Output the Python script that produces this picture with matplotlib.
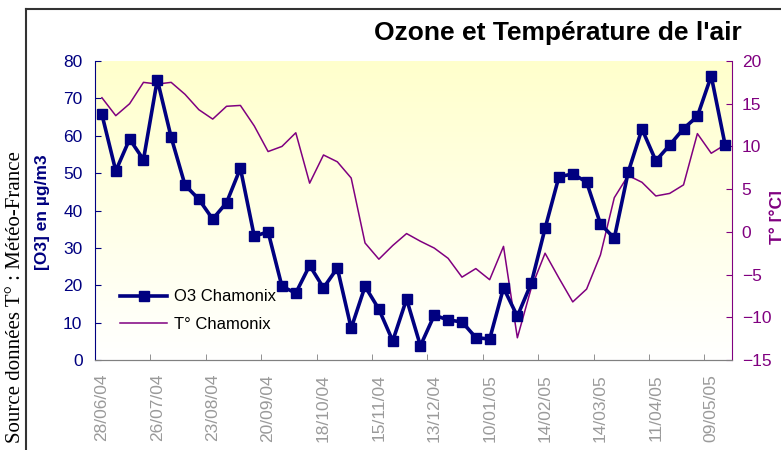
import numpy as np
import matplotlib
matplotlib.use('Agg')
import matplotlib.pyplot as plt
from matplotlib.lines import Line2D

plt.rcParams['font.family'] = 'Liberation Sans'

# weekly dates (one week missing in late January)
dates = ['28/06/04', '05/07/04', '12/07/04', '19/07/04', '26/07/04', '02/08/04',
         '09/08/04', '16/08/04', '23/08/04', '30/08/04', '06/09/04', '13/09/04',
         '20/09/04', '27/09/04', '04/10/04', '11/10/04', '18/10/04', '25/10/04',
         '01/11/04', '08/11/04', '15/11/04', '22/11/04', '29/11/04', '06/12/04',
         '13/12/04', '20/12/04', '27/12/04', '03/01/05', '10/01/05', '17/01/05',
         '24/01/05', '07/02/05', '14/02/05', '21/02/05', '28/02/05', '07/03/05',
         '14/03/05', '21/03/05', '28/03/05', '04/04/05', '11/04/05', '18/04/05',
         '25/04/05', '02/05/05', '09/05/05', '16/05/05']

o3 = [65.7, 50.6, 59.1, 53.6, 75.0, 59.6, 46.8, 43.0, 37.7, 42.1, 51.3, 33.1,
      34.3, 19.7, 17.9, 25.3, 19.3, 24.6, 8.5, 19.7, 13.6, 5.1, 16.3, 3.8,
      12.0, 10.7, 10.2, 6.0, 5.6, 19.3, 11.7, 20.5, 35.2, 49.0, 49.8, 47.6,
      36.4, 32.6, 50.2, 61.8, 53.3, 57.5, 61.9, 65.2, 76.0, 57.6]

temp = [15.7, 13.6, 15.0, 17.5, 17.3, 17.5, 16.1, 14.3, 13.2, 14.7, 14.8, 12.4,
        9.4, 10.0, 11.6, 5.7, 9.0, 8.2, 6.3, -1.3, -3.2, -1.6, -0.2, -1.1,
        -1.9, -3.1, -5.3, -4.3, -5.6, -1.7, -12.4, -6.6, -2.5, -5.4, -8.2, -6.7,
        -2.7, 4.0, 6.6, 5.8, 4.2, 4.5, 5.5, 11.5, 9.2, 10.2]

navy = '#000080'
purple = '#800080'
W, H = 781, 450

fig = plt.figure(figsize=(W / 100, H / 100), dpi=100)
ax2 = fig.add_axes([95 / W, 1 - 360 / H, 637 / W, 299 / H])
ax = ax2.twinx()
ax.set_zorder(ax2.get_zorder() + 1)
ax.patch.set_visible(False)

# yellow to white background
grad = np.linspace(0, 1, 256).reshape(-1, 1)
cmap = matplotlib.colors.LinearSegmentedColormap.from_list('bg', ['#FFFFCC', '#FFFFFF'])
ax2.imshow(grad, extent=[0, 1, 0, 1], transform=ax2.transAxes, aspect='auto',
           cmap=cmap, zorder=0)

x = np.arange(len(dates))
l1, = ax.plot(x, o3, color=navy, lw=2.6, marker='s', ms=7.5, mec=navy, mfc=navy,
              label='O3 Chamonix')
l2, = ax2.plot(x, temp, color=purple, lw=1.1, label='T° Chamonix')

# ozone on the left, temperature on the right
ax.yaxis.tick_left()
ax.yaxis.set_label_position('left')
ax2.yaxis.tick_right()

ax.set_ylim(0, 80)
ax.set_yticks(range(0, 81, 10))
ax2.set_ylim(-15, 20)
ax2.set_yticks(range(-15, 21, 5))
ax.set_xlim(-0.5, len(dates) - 0.5)

ax.tick_params(axis='y', colors=navy, labelsize=12.5, direction='in', length=4, pad=9,
               left=True, right=False, labelleft=True, labelright=False)
ax2.tick_params(axis='y', colors=purple, labelsize=12.5, direction='in', length=4, pad=7,
                left=False, right=True, labelleft=False, labelright=True)

ax2.set_xticks(x[::4])
ax2.set_xticklabels(dates[::4], rotation=90, color='#9a9a9a', fontsize=12.5)
ax2.set_xticks(np.arange(-0.5, len(dates), 4), minor=True)
ax2.tick_params(axis='x', which='major', length=0, pad=10)
ax2.tick_params(axis='x', which='minor', length=4, direction='in', color='#808080')
ax.tick_params(axis='x', bottom=False, labelbottom=False)

for a in (ax, ax2):
    a.spines['top'].set_visible(False)
ax.spines['left'].set_color(navy)
ax.spines['right'].set_visible(False)
ax.spines['bottom'].set_color('#808080')
ax2.spines['right'].set_color(purple)
ax2.spines['left'].set_visible(False)
ax2.spines['bottom'].set_color('#808080')

ax.legend([l1, l2], ['O3 Chamonix', 'T° Chamonix'], loc='center left',
          bbox_to_anchor=(0.04, 0.165), frameon=False, fontsize=12,
          handlelength=2.8, handletextpad=0.4, labelspacing=0.75,
          borderpad=0, borderaxespad=0)

fig.text(742 / W, 1 - 33 / H, "Ozone et Température de l'air", ha='right', va='center',
         fontsize=19, fontweight='bold')
fig.text(42 / W, 1 - 212 / H, '[O3] en µg/m3', rotation=90, ha='center', va='center',
         fontsize=12.5, fontweight='bold', color=navy)
fig.text(769 / W, 1 - 217 / H, 'T° [°C]', rotation=90, ha='left', va='center',
         fontsize=12.5, fontweight='bold', color=purple)
fig.text(16 / W, 1 - 297 / H, 'Source données T° : Météo-France', rotation=90,
         ha='center', va='center', fontsize=15, family='Liberation Serif')

# outer frame of the original sheet
fig.add_artist(Line2D([26 / W, 1], [1 - 9 / H, 1 - 9 / H], transform=fig.transFigure,
                      color='#333333', lw=1.5))
fig.add_artist(Line2D([26 / W, 26 / W], [0, 1 - 9 / H], transform=fig.transFigure,
                      color='#333333', lw=1.5))

fig.savefig('out.png', dpi=100)
